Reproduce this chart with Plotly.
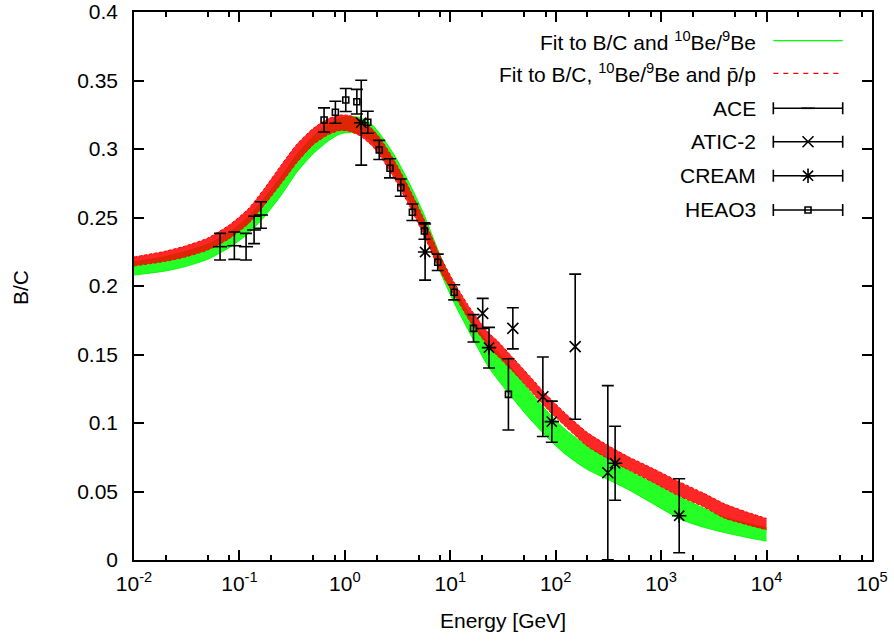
import plotly.graph_objects as go

# ---------------- data ----------------
band_E = [0.01, 0.02, 0.03, 0.05, 0.08, 0.12, 0.17, 0.25, 0.35, 0.5, 0.7, 0.9,
          1.1, 1.4, 1.8, 2.2, 3.0, 4.0, 5.5, 8.0, 11, 16, 23, 28, 40, 57, 82,
          120, 200, 350, 500, 800, 1500, 2500, 4000, 6500, 10000]
red_hi = [0.2212, 0.2255, 0.2290, 0.2350, 0.2445, 0.2560, 0.2705, 0.2885, 0.3035,
          0.3150, 0.3222, 0.3248, 0.3245, 0.3215, 0.3150, 0.3070, 0.2905, 0.2725,
          0.2505, 0.2220, 0.2020, 0.1820, 0.1660, 0.1600, 0.1470, 0.1340, 0.1205,
          0.1080, 0.0930, 0.0815, 0.0750, 0.0675, 0.0570, 0.0490, 0.0410, 0.0350,
          0.0304]
red_lo = [0.2146, 0.2180, 0.2210, 0.2262, 0.2345, 0.2450, 0.2585, 0.2750, 0.2900,
          0.3030, 0.3105, 0.3135, 0.3130, 0.3095, 0.3025, 0.2940, 0.2775, 0.2600,
          0.2385, 0.2110, 0.1930, 0.1720, 0.1560, 0.1490, 0.1370, 0.1240, 0.1105,
          0.0985, 0.0830, 0.0718, 0.0655, 0.0575, 0.0465, 0.0390, 0.0305, 0.0258,
          0.0220]
green_hi = [0.2175, 0.2215, 0.2250, 0.2305, 0.2390, 0.2500, 0.2635, 0.2800, 0.2960,
            0.3090, 0.3180, 0.3225, 0.3238, 0.3230, 0.3180, 0.3100, 0.2945, 0.2765,
            0.2540, 0.2225, 0.1990, 0.1760, 0.1580, 0.1520, 0.1380, 0.1230, 0.1090,
            0.0960, 0.0830, 0.0720, 0.0650, 0.0570, 0.0460, 0.0380, 0.0310, 0.0270,
            0.0235]
green_lo = [0.2080, 0.2110, 0.2140, 0.2195, 0.2280, 0.2380, 0.2500, 0.2665, 0.2830,
            0.2965, 0.3060, 0.3110, 0.3120, 0.3110, 0.3050, 0.2965, 0.2810, 0.2635,
            0.2415, 0.2105, 0.1870, 0.1630, 0.1410, 0.1320, 0.1170, 0.1030, 0.0900,
            0.0780, 0.0660, 0.0570, 0.0510, 0.0420, 0.0300, 0.0240, 0.0200, 0.0165,
            0.0138]

ace_E = [0.0655, 0.0895, 0.1156, 0.1377, 0.160]
ace_BC = [0.2287, 0.2294, 0.2287, 0.2409, 0.2518]
ace_err = [0.0097, 0.0100, 0.0097, 0.0100, 0.0097]

atic_E = [20.3, 39.2, 75.5, 153, 312]
atic_BC = [0.180, 0.1691, 0.1192, 0.1557, 0.0637]
atic_err = [0.011, 0.015, 0.029, 0.053, 0.0636]

cream_E = [1.43, 5.77, 23.3, 91.8, 366, 1483]
cream_BC = [0.3192, 0.2248, 0.1550, 0.1010, 0.0706, 0.0323]
cream_err = [0.031, 0.0205, 0.0148, 0.015, 0.027, 0.027]

heao_E = [0.635, 0.813, 1.02, 1.30, 1.65, 2.12, 2.68, 3.39, 4.37, 5.68, 7.60,
          10.9, 16.6, 35.6]
heao_BC = [0.3212, 0.3268, 0.3358, 0.3345, 0.3195, 0.2993, 0.2859, 0.2718,
           0.2538, 0.2401, 0.2173, 0.1954, 0.1691, 0.1209]
heao_err = [0.0088, 0.0080, 0.0084, 0.0090, 0.0080, 0.0070, 0.0070, 0.0063,
            0.0060, 0.0060, 0.0060, 0.0055, 0.0100, 0.0260]

x_tickvals = [1e-2, 1e-1, 1e0, 1e1, 1e2, 1e3, 1e4, 1e5]
x_ticktext = ["10<sup>-2</sup>", "10<sup>-1</sup>", "10<sup>0</sup>", "10<sup>1</sup>",
              "10<sup>2</sup>", "10<sup>3</sup>", "10<sup>4</sup>", "10<sup>5</sup>"]
# minor ticks visible in the reference sit at 2, 5 and 8 of each decade
x_minor_vals = [m * d for d in [1e-2, 1e-1, 1e0, 1e1, 1e2, 1e3, 1e4] for m in (2, 5, 8)]

legend_labels = ["Fit to B/C and <sup>10</sup>Be/<sup>9</sup>Be",
                 "Fit to B/C, <sup>10</sup>Be/<sup>9</sup>Be and p\u0304/p",
                 "ACE", "ATIC-2", "CREAM", "HEAO3"]
legend_rows = [0.9476, 0.8881, 0.8243, 0.7633, 0.7013, 0.6387]

FONT = "Liberation Sans, Arial, sans-serif"
FS = 21
GREEN = "#00ff00"
RED = "#ff0000"

fig = go.Figure()

# green band
fig.add_trace(go.Scatter(x=band_E, y=green_lo, mode="lines",
                         line=dict(color=GREEN, width=1, shape="spline", smoothing=0.6),
                         showlegend=False, hoverinfo="skip"))
fig.add_trace(go.Scatter(x=band_E, y=green_hi, mode="lines", fill="tonexty",
                         fillcolor="rgba(0,255,0,0.85)",
                         line=dict(color=GREEN, width=1, shape="spline", smoothing=0.6),
                         showlegend=False, hoverinfo="skip"))
# red band
fig.add_trace(go.Scatter(x=band_E, y=red_lo, mode="lines",
                         line=dict(color=RED, width=1, dash="3px,2px", shape="spline",
                                   smoothing=0.6),
                         showlegend=False, hoverinfo="skip"))
fig.add_trace(go.Scatter(x=band_E, y=red_hi, mode="lines", fill="tonexty",
                         fillcolor="rgba(255,0,0,0.85)",
                         line=dict(color=RED, width=1, dash="3px,2px", shape="spline",
                                   smoothing=0.6),
                         showlegend=False, hoverinfo="skip"))

def data_trace(x, y, err, symbol, size, xaxis="x", yaxis="y", errx=None):
    kw = {}
    if errx is not None:
        kw["error_x"] = dict(type="data", array=errx, color="black",
                             thickness=1.6, width=6)
    else:
        kw["error_y"] = dict(type="data", array=err, color="black",
                             thickness=1.6, width=6)
    return go.Scatter(x=x, y=y, mode="markers", xaxis=xaxis, yaxis=yaxis,
                      marker=dict(symbol=symbol, size=size, color="black",
                                  line=dict(color="black", width=1.6)),
                      showlegend=False, **kw)

sets = [
    (ace_E, ace_BC, ace_err, "line-ew", 10),
    (atic_E, atic_BC, atic_err, "x-thin", 11),
    (cream_E, cream_BC, cream_err, "asterisk", 12),
    (heao_E, heao_BC, heao_err, "square-open", 6),
]
for x, y, e, sym, sz in sets:
    fig.add_trace(data_trace(x, y, e, sym, sz))

# ---- legend (gnuplot style: text on the left, sample on the right) ----
samp_c = 0.9133
samp_hw = 0.0470
fig.add_trace(go.Scatter(x=[samp_c - samp_hw, samp_c + samp_hw],
                         y=[legend_rows[0]] * 2, mode="lines", xaxis="x2", yaxis="y2",
                         line=dict(color=GREEN, width=1.2), showlegend=False))
fig.add_trace(go.Scatter(x=[samp_c - samp_hw, samp_c + samp_hw],
                         y=[legend_rows[1]] * 2, mode="lines", xaxis="x2", yaxis="y2",
                         line=dict(color=RED, width=1.2, dash="5px,5px"), showlegend=False))
for i, (_, _, _, sym, sz) in enumerate(sets):
    fig.add_trace(data_trace([samp_c], [legend_rows[i + 2]], None, sym, sz,
                             xaxis="x2", yaxis="y2", errx=[samp_hw]))

for lab, ry in zip(legend_labels, legend_rows):
    fig.add_annotation(x=0.8455, y=ry, xref="paper", yref="paper", text=lab,
                       showarrow=False, xanchor="right", yanchor="middle",
                       font=dict(family=FONT, size=FS, color="black"))

# axis titles
fig.add_annotation(x=-0.1545, y=0.498, xref="paper", yref="paper", text="B/C",
                   textangle=-90, showarrow=False, xanchor="center", yanchor="middle",
                   font=dict(family=FONT, size=FS, color="black"))
fig.add_annotation(x=0.5, y=-0.1095, xref="paper", yref="paper", text="Energy [GeV]",
                   showarrow=False, xanchor="center", yanchor="middle",
                   font=dict(family=FONT, size=FS, color="black"))

axis_common = dict(showline=True, linecolor="black", linewidth=1.6, mirror="ticks",
                   ticks="inside", tickcolor="black", tickwidth=1.6, ticklen=10,
                   showgrid=False, zeroline=False, automargin=False,
                   tickfont=dict(family=FONT, size=FS, color="black"))

fig.update_layout(
    width=894, height=643, autosize=False,
    margin=dict(l=134, r=22, t=12, b=83),
    paper_bgcolor="white", plot_bgcolor="white",
    showlegend=False,
    xaxis=dict(type="log", range=[-2, 5], tickvals=x_tickvals, ticktext=x_ticktext,
               ticklabelstandoff=4,
               minor=dict(ticks="inside", ticklen=5, tickcolor="black", tickwidth=1.5,
                          tickvals=x_minor_vals, showgrid=False),
               **axis_common),
    yaxis=dict(range=[0, 0.4], dtick=0.05, tick0=0, ticklabelstandoff=10,
               **axis_common),
    xaxis2=dict(overlaying="x", range=[0, 1], visible=False, fixedrange=True),
    yaxis2=dict(overlaying="y", range=[0, 1], visible=False, fixedrange=True),
)

fig.write_html("out.html", config={"displayModeBar": False},
               post_script="document.body.style.margin='0px';"
                           "document.body.style.overflow='hidden';")
